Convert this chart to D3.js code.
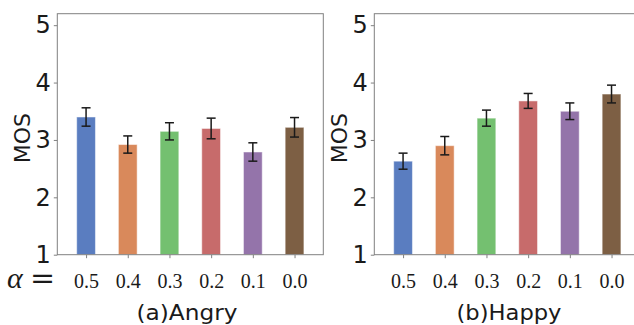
<!DOCTYPE html>
<html>
<head>
<meta charset="utf-8">
<script src="https://cdn.jsdelivr.net/npm/d3@7"></script>
<style>
  body { margin: 0; background: #fff; }
  svg { display: block; }
</style>
</head>
<body>
<div id="chart"></div>
<script>
// alpha values on the x axis
const alphaLabels = ["0.5", "0.4", "0.3", "0.2", "0.1", "0.0"];
// MOS means and error bar half-widths
const angryMos = [3.40, 2.92, 3.15, 3.20, 2.79, 3.22];
const angryErr = [0.16, 0.15, 0.15, 0.18, 0.16, 0.17];
const happyMos = [2.63, 2.90, 3.38, 3.68, 3.50, 3.80];
const happyErr = [0.14, 0.16, 0.14, 0.13, 0.145, 0.155];
const yTicks = [1, 2, 3, 4, 5];
const barColors = ["#5a7dc0", "#d9895b", "#74c070", "#c76b6b", "#9474aa", "#7d5f44"];

const width = 634, height = 325;
const svg = d3.select("#chart").append("svg")
    .attr("width", width)
    .attr("height", height);

const plotTop = 13.7, plotBottom = 254.7;
const panelW = 266;

const yScale = d3.scaleLinear().domain([1, 5.2]).range([plotBottom, plotTop]);

function drawPanel(left, values, errs, title, titleCx, titleLen) {
    const xScale = d3.scaleLinear()
        .domain([-0.69, 5.69])
        .range([left, left + panelW]);
    const barW = xScale(0.45) - xScale(0);
    const g = svg.append("g");

    // bars
    g.selectAll(".bar")
        .data(values)
        .enter()
        .append("rect")
        .attr("class", "bar")
        .attr("x", (d, i) => xScale(i) - barW / 2)
        .attr("width", barW)
        .attr("y", d => yScale(d))
        .attr("height", d => yScale(1) - yScale(d))
        .attr("fill", (d, i) => barColors[i])
        .attr("stroke", "#ffffff")
        .attr("stroke-opacity", 0.5)
        .attr("stroke-width", 1);

    // error bars
    const eb = g.selectAll(".err")
        .data(values)
        .enter()
        .append("g")
        .attr("class", "err")
        .attr("stroke", "#1a1a1a")
        .attr("stroke-width", 1.5);
    eb.append("line")
        .attr("x1", (d, i) => xScale(i)).attr("x2", (d, i) => xScale(i))
        .attr("y1", (d, i) => yScale(d + errs[i]))
        .attr("y2", (d, i) => yScale(d - errs[i]));
    eb.append("line")
        .attr("x1", (d, i) => xScale(i) - 4.5).attr("x2", (d, i) => xScale(i) + 4.5)
        .attr("y1", (d, i) => yScale(d + errs[i]))
        .attr("y2", (d, i) => yScale(d + errs[i]));
    eb.append("line")
        .attr("x1", (d, i) => xScale(i) - 4.5).attr("x2", (d, i) => xScale(i) + 4.5)
        .attr("y1", (d, i) => yScale(d - errs[i]))
        .attr("y2", (d, i) => yScale(d - errs[i]));

    // y axis
    const yAxis = g.append("g")
        .attr("transform", `translate(${left},0)`)
        .call(d3.axisLeft(yScale).tickValues(yTicks).tickFormat(d3.format("d")).tickSize(3.5).tickPadding(3));
    yAxis.select(".domain").remove();
    yAxis.selectAll(".tick line").attr("stroke", "#808080");
    yAxis.selectAll(".tick text")
        .attr("font-family", "DejaVu Sans")
        .attr("font-size", 24)
        .attr("fill", "#1a1a1a");

    // x axis
    const xAxis = g.append("g")
        .attr("transform", `translate(0,${plotBottom})`)
        .call(d3.axisBottom(xScale).tickValues(d3.range(alphaLabels.length))
            .tickFormat(i => alphaLabels[i]).tickSize(3.5).tickPadding(4));
    xAxis.select(".domain").remove();
    xAxis.selectAll(".tick line").attr("stroke", "#808080");
    xAxis.selectAll(".tick text")
        .attr("font-family", "Liberation Serif")
        .attr("font-size", 20)
        .attr("fill", "#1a1a1a")
        .attr("dy", null)
        .attr("y", 33.3);

    // frame
    g.append("rect")
        .attr("x", left).attr("y", plotTop)
        .attr("width", panelW).attr("height", plotBottom - plotTop)
        .attr("fill", "none")
        .attr("stroke", "#808080")
        .attr("stroke-width", 1);

    // y label
    g.append("text")
        .attr("transform", `translate(${left - 27},${(plotTop + plotBottom) / 2 + 4}) rotate(-90)`)
        .attr("text-anchor", "middle")
        .attr("font-family", "DejaVu Sans")
        .attr("font-size", 22)
        .attr("fill", "#1a1a1a")
        .text("MOS");

    // subtitle
    g.append("text")
        .attr("x", titleCx - titleLen / 2)
        .attr("y", 320)
        .attr("font-family", "DejaVu Sans")
        .attr("font-size", 21)
        .attr("fill", "#1a1a1a")
        .attr("textLength", titleLen)
        .attr("lengthAdjust", "spacingAndGlyphs")
        .text(title);
}

drawPanel(57.3, angryMos, angryErr, "(a)Angry", 187, 101);
drawPanel(374.3, happyMos, happyErr, "(b)Happy", 509, 105);

// alpha = label
svg.append("text")
    .attr("x", 7)
    .attr("y", 288)
    .attr("font-family", "Liberation Serif")
    .attr("font-style", "italic")
    .attr("font-size", 30)
    .attr("fill", "#1a1a1a")
    .text("α");
svg.append("text")
    .attr("x", 30)
    .attr("y", 288)
    .attr("font-family", "DejaVu Serif")
    .attr("font-size", 30)
    .attr("fill", "#1a1a1a")
    .text("=");
</script>
</body>
</html>
